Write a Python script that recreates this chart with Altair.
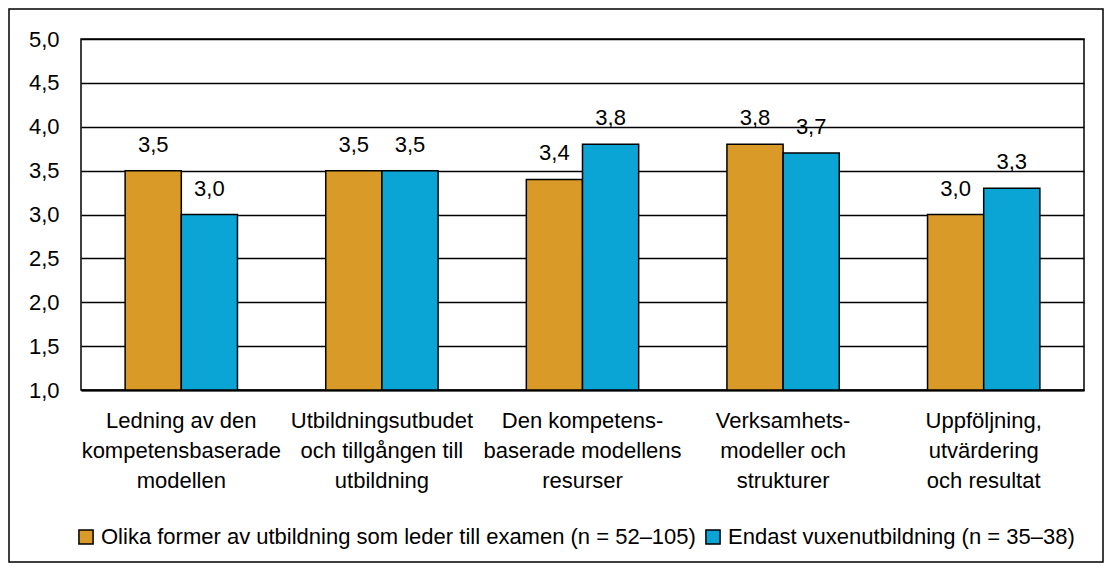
import altair as alt
import pandas as pd

categories = [
    "Ledning av den\nkompetensbaserade\nmodellen",
    "Utbildningsutbudet\noch tillgången till\nutbildning",
    "Den kompetens-\nbaserade modellens\nresurser",
    "Verksamhets-\nmodeller och\nstrukturer",
    "Uppföljning,\nutvärdering\noch resultat",
]
series = [
    "Olika former av utbildning som leder till examen (n = 52–105)",
    "Endast vuxenutbildning (n = 35–38)",
]
values_a = [3.5, 3.5, 3.4, 3.8, 3.0]
values_b = [3.0, 3.5, 3.8, 3.7, 3.3]
colors = ["#DA9A27", "#0AA5D5"]
y_ticks = [1.0, 1.5, 2.0, 2.5, 3.0, 3.5, 4.0, 4.5, 5.0]

rows = []
for c, a, b in zip(categories, values_a, values_b):
    rows.append({"cat": c, "series": series[0], "value": a})
    rows.append({"cat": c, "series": series[1], "value": b})
df = pd.DataFrame(rows)

FONT = "Liberation Sans Narrow, Arial Narrow, Liberation Sans, sans-serif"
FS = 22

base = alt.Chart(df).encode(
    x=alt.X("cat:N", sort=categories, title=None,
            scale=alt.Scale(paddingInner=0.44, paddingOuter=0.22),
            axis=alt.Axis(labelExpr="split(datum.label, '\\n')", labelAngle=0,
                          ticks=False, domain=True, domainColor="black", domainWidth=2,
                          labelPadding=20, labelLineHeight=30, labelLimit=400,
                          labelFont=FONT, labelFontSize=FS, labelColor="black")),
    xOffset=alt.XOffset("series:N", sort=series),
)

bars = base.mark_bar(stroke="black", strokeWidth=1.5).encode(
    y=alt.Y("value:Q", title=None,
            scale=alt.Scale(domain=[1, 5], zero=False, nice=False),
            axis=alt.Axis(values=y_ticks, ticks=False, domain=False,
                          grid=True, gridColor="black", gridWidth=1.5,
                          labelExpr="replace(format(datum.value, '.1f'), '.', ',')",
                          labelPadding=22, labelFont=FONT, labelFontSize=FS,
                          labelColor="black")),
    y2=alt.datum(1),
    color=alt.Color("series:N", sort=series,
                    scale=alt.Scale(domain=series, range=colors),
                    legend=alt.Legend(title=None, orient="none", legendX=-6, legendY=487,
                                      direction="horizontal", symbolType="square",
                                      symbolSize=200, symbolStrokeColor="black",
                                      symbolStrokeWidth=1.5, symbolOpacity=1,
                                      labelFont=FONT, labelFontSize=FS, labelColor="black",
                                      labelOffset=4, columnPadding=6, labelLimit=800)),
)

labels = base.mark_text(baseline="middle", align="center", dy=-26,
                        font=FONT, fontSize=FS, color="black").transform_calculate(
    lbl="replace(format(datum.value, '.1f'), '.', ',')"
).encode(
    y=alt.Y("value:Q"),
    text="lbl:N",
)

frame = alt.Chart(pd.DataFrame({"a": [0]})).mark_rect(
    fill=None, stroke="black", strokeWidth=1.5
).encode(
    x=alt.value(-72), x2=alt.value(1022), y=alt.value(-30), y2=alt.value(523)
)

chart = alt.layer(frame, bars, labels).properties(
    width=1003, height=351,
    autosize=alt.AutoSizeParams(type="none"),
    padding={"left": 73, "top": 31, "right": 20, "bottom": 173},
).configure_view(stroke="black", strokeWidth=1.5)

chart.save("out.html", embed_options={"renderer": "svg", "actions": False})
